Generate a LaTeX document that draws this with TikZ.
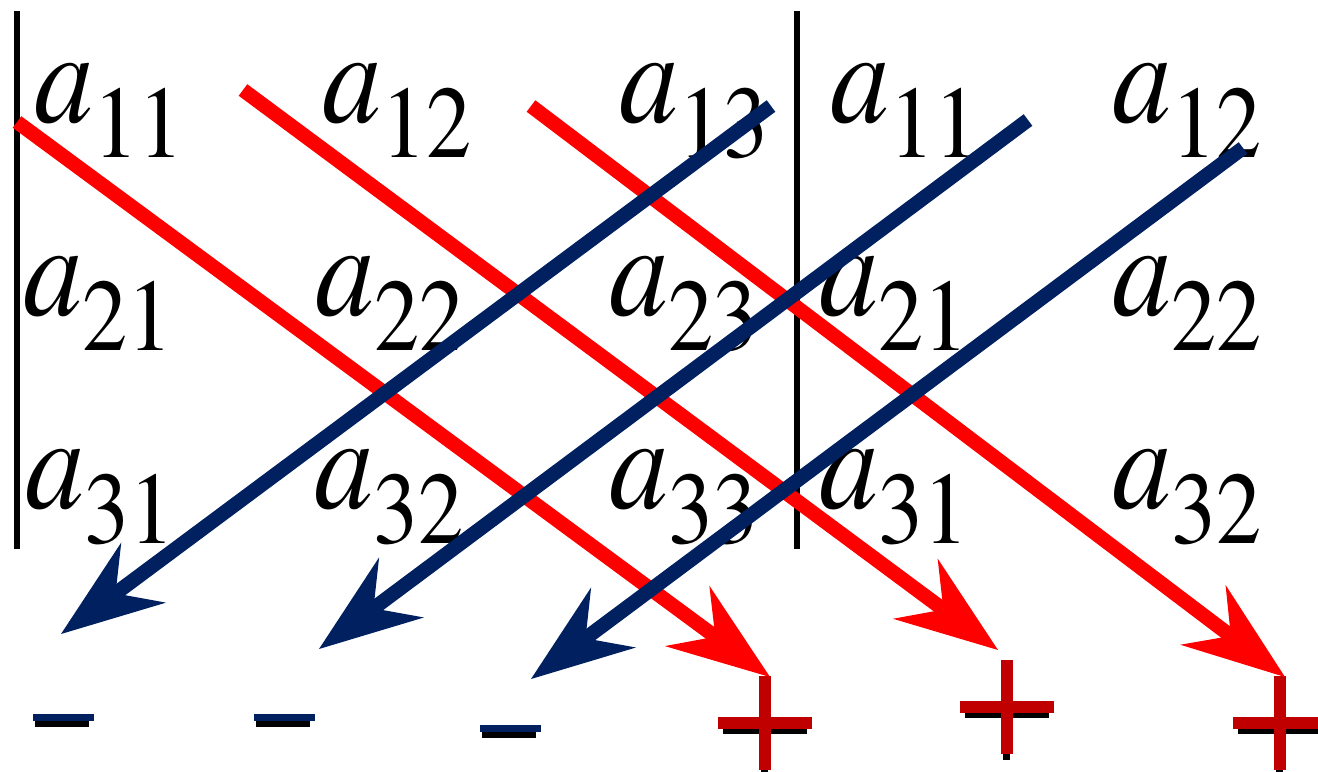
\documentclass[tikz,border=0pt]{standalone}
\usepackage{fontspec}
\setmainfont{TeX Gyre Termes}
\newfontfamily\entryfont{TeX Gyre Termes}
\usepackage{graphicx}
\usetikzlibrary{arrows.meta}
\definecolor{diagred}{HTML}{FF0000}
\definecolor{diagnavy}{HTML}{002060}
\definecolor{signred}{HTML}{C00000}
\newcommand{\entry}[1]{\scalebox{0.88}[1]{\entryfont{\fontsize{76.5}{80}\selectfont\itshape a}\raisebox{-20.4pt}{\fontsize{58.4}{60}\selectfont\upshape #1}}}

\begin{document}
\begin{tikzpicture}[x=0.02cm,y=-0.02cm,
 elem/.style={anchor=base west,inner sep=0pt,font=\entryfont},
 bar/.style={line width=3.4pt},
 diag/.style={line width=8.2pt,-{Stealth[length=2.06cm,width=1.5cm,inset=0.7cm,line width=0pt]}},
 plussign/.pic={\fill[black] (-42,6) rectangle (42,11);
  \fill[black] (-4,47) rectangle (3,53);
  \fill[signred] (-6,-47) rectangle (6,47);
  \fill[signred] (-47,-6) rectangle (47,6);},
 minussign/.pic={\fill[black] (-28,4) rectangle (26,10);
  \fill[diagnavy] (-30,-3) rectangle (31,4);}]
\useasboundingbox (0,0) rectangle (1318,771);

% entries
\node[elem] (a11) at (34,122) {\entry{11}};
\node[elem] (a12) at (322,122) {\entry{12}};
\node[elem] (a13) at (619,122) {\entry{13}};
\node[elem] (b11) at (830,122) {\entry{11}};
\node[elem] (b12) at (1112,122) {\entry{12}};
\node[elem] (a21) at (23,315) {\entry{21}};
\node[elem] (a22) at (315,315) {\entry{22}};
\node[elem] (a23) at (609,315) {\entry{23}};
\node[elem] (b21) at (819,315) {\entry{21}};
\node[elem] (b22) at (1112,315) {\entry{22}};
\node[elem] (a31) at (25,508) {\entry{31}};
\node[elem] (a32) at (314,508) {\entry{32}};
\node[elem] (a33) at (609,508) {\entry{33}};
\node[elem] (b31) at (819,508) {\entry{31}};
\node[elem] (b32) at (1112,508) {\entry{32}};

% determinant bars
\coordinate (barLtop) at (17,11);
\coordinate (barLbot) at (17,549);
\coordinate (barRtop) at (797,11);
\coordinate (barRbot) at (797,549);
\draw[bar] (barLtop) -- (barLbot);
\draw[bar] (barRtop) -- (barRbot);

% signs
\coordinate (m1) at (63,717);
\coordinate (m2) at (284,717);
\coordinate (m3) at (510,728);
\coordinate (p1) at (765,723);
\coordinate (p2) at (1007,707);
\coordinate (p3) at (1280,723);
\pic at (m1) {minussign};
\pic at (m2) {minussign};
\pic at (m3) {minussign};
\pic at (p1) {plussign};
\pic at (p2) {plussign};
\pic at (p3) {plussign};

% diagonals
\coordinate (r1s) at (17,122);   \coordinate (r1e) at (770,677);
\coordinate (r2s) at (243,90);   \coordinate (r2e) at (998,650);
\coordinate (r3s) at (531,106);  \coordinate (r3e) at (1285,677);
\coordinate (n1s) at (771,106);  \coordinate (n1e) at (61,634);
\coordinate (n2s) at (1028,120); \coordinate (n2e) at (319,649);
\coordinate (n3s) at (1243,148); \coordinate (n3e) at (531,679);
\draw[diag,diagred] (r1s) -- (r1e);
\draw[diag,diagred] (r2s) -- (r2e);
\draw[diag,diagred] (r3s) -- (r3e);
\draw[diag,diagnavy] (n1s) -- (n1e);
\draw[diag,diagnavy] (n2s) -- (n2e);
\draw[diag,diagnavy] (n3s) -- (n3e);
\end{tikzpicture}
\end{document}
